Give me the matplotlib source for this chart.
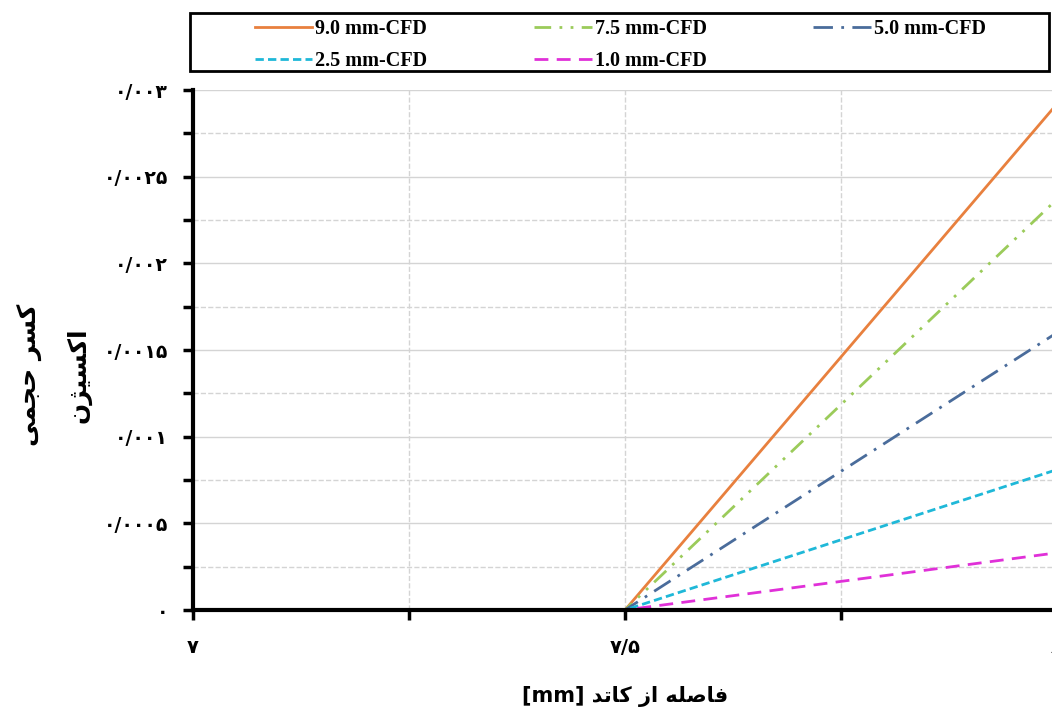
import matplotlib.pyplot as plt
from matplotlib.patches import Rectangle
from matplotlib.ticker import MultipleLocator, FixedLocator, FixedFormatter

# distance from cathode [mm]
x = [7.0, 7.5, 8.0]

labels = ['9.0 mm-CFD', '7.5 mm-CFD', '5.0 mm-CFD', '2.5 mm-CFD', '1.0 mm-CFD']
series = [
  [0.0, 0.0, 0.00292],
  [0.0, 0.0, 0.00237],
  [0.0, 0.0, 0.00160],
  [0.0, 0.0, 0.00081],
  [0.0, 0.0, 0.00033],
]
colors = ['#E8803E', '#9BCB5A', '#4A6C9B', '#1FB8D8', '#E030D8']
styles = ['-', (0, (6, 3, 1, 3, 1, 3)), (0, (7, 3, 1, 3)), (0, (3, 1.5)), (0, (5, 3))]

yticks = [0, 0.0005, 0.001, 0.0015, 0.002, 0.0025, 0.003]
ytick_labels = ['\u06f0', '\u06f0/\u06f0\u06f0\u06f0\u06f5', '\u06f0/\u06f0\u06f0\u06f1',
                '\u06f0/\u06f0\u06f0\u06f1\u06f5', '\u06f0/\u06f0\u06f0\u06f2',
                '\u06f0/\u06f0\u06f0\u06f2\u06f5', '\u06f0/\u06f0\u06f0\u06f3']
xticks = [7.0, 7.5, 8.0]
xtick_labels = ['\u06f7', '\u06f7/\u06f5', '\u06f8']

# pre-shaped persian labels (visual order, presentation forms)
ylabel = '\uFBFD\uFEE4\uFEA0\uFEA3 \uFEAE\uFEB4\uFB90\n\uFEE5\uFB8B\uFBFF\uFEB4\uFB90\uFE8D'
xlabel = '[mm] \uFEAA\uFE97\uFE8E\uFB90 \uFEAF\uFE8D \uFEEA\uFEE0\uFEBB\uFE8E\uFED3'


def main():
  W, H = 1052, 711
  fig = plt.figure(figsize=(W / 100, H / 100), dpi=100)
  ax = fig.add_axes([193 / W, 1 - 610 / H, 864 / W, 520 / H])

  lines = []
  for ys, lab, c, ls in zip(series, labels, colors, styles):
    ln, = ax.plot(x, ys, color=c, linestyle=ls, linewidth=2, label=lab)
    lines.append(ln)

  ax.set_xlim(7.0, 8.0)
  ax.set_ylim(0, 0.003)

  ax.xaxis.set_major_locator(FixedLocator(xticks))
  ax.xaxis.set_major_formatter(FixedFormatter(xtick_labels))
  ax.xaxis.set_minor_locator(MultipleLocator(0.25))
  ax.yaxis.set_major_locator(FixedLocator(yticks))
  ax.yaxis.set_major_formatter(FixedFormatter(ytick_labels))
  ax.yaxis.set_minor_locator(MultipleLocator(0.00025))

  ax.grid(which='major', axis='y', color='#d4d4d4', linewidth=1, linestyle='-')
  ax.grid(which='minor', axis='y', color='#d4d4d4', linewidth=1, linestyle='--')
  ax.grid(which='both', axis='x', color='#d4d4d4', linewidth=1, linestyle='--')
  ax.set_axisbelow(True)

  for s in ['top', 'right']:
    ax.spines[s].set_visible(False)
  for s in ['left', 'bottom']:
    ax.spines[s].set_linewidth(3)
    ax.spines[s].set_color('black')

  ax.tick_params(which='both', direction='out', width=2.5, length=7, color='black')
  ax.tick_params(axis='y', which='major', labelsize=13.5, pad=11)
  ax.tick_params(axis='x', which='major', labelsize=14, pad=13)
  for t in ax.get_xticklabels() + ax.get_yticklabels():
    t.set_fontweight('bold')
    t.set_family('DejaVu Sans')

  ax.set_xlabel(xlabel, fontsize=15, fontweight='bold', labelpad=21)
  ax.set_ylabel(ylabel, fontsize=18, fontweight='bold', linespacing=2.3)
  ax.yaxis.set_label_coords(-0.117, 0.452)

  # legend: rows 9.0 / 7.5 / 5.0 then 2.5 / 1.0
  order = [0, 3, 1, 4, 2]
  leg = fig.legend([lines[i] for i in order], [labels[i] for i in order],
                   loc='upper left', ncol=3, frameon=False,
                   bbox_to_anchor=(255 / W, 1 - 19 / H),
                   handlelength=2.85, handletextpad=0.15, columnspacing=5.3,
                   borderaxespad=0, borderpad=0, labelspacing=0.6,
                   prop={'family': 'Liberation Serif', 'weight': 'bold', 'size': 14.5})
  fig.patches.append(Rectangle((190 / W, 1 - 71 / H), 859 / W, 58 / H,
                               transform=fig.transFigure, fill=False,
                               edgecolor='black', linewidth=2))

  fig.savefig('out.png', dpi=100)
  plt.close(fig)

if __name__ == '__main__':
  main()
